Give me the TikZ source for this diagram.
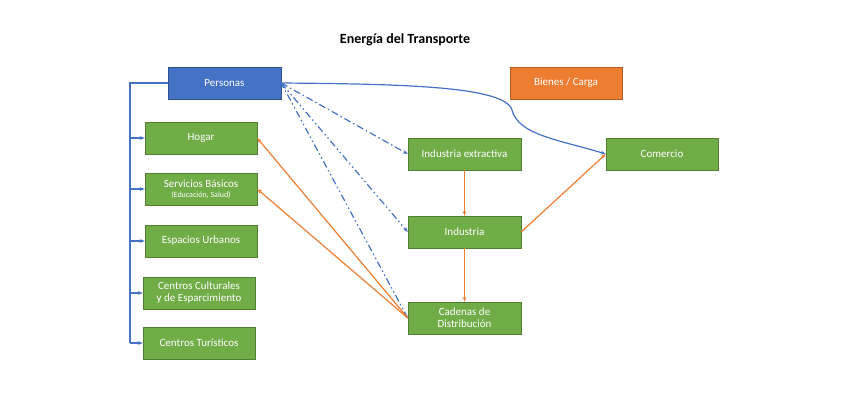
\documentclass[tikz,border=0pt]{standalone}
\usepackage{fontspec}
\setmainfont{Carlito}
\usetikzlibrary{arrows.meta}
\definecolor{gr}{HTML}{70AD47}\definecolor{grd}{HTML}{507E32}
\definecolor{bl}{HTML}{4472C4}\definecolor{bld}{HTML}{2F528F}
\definecolor{or}{HTML}{ED7D31}\definecolor{ord}{HTML}{AE5A21}
\tikzset{x=1pt,y=-1pt,
 gbox/.style={fill=gr,draw=grd,minimum width=112pt,minimum height=32pt,text=white,font=\fontsize{11}{12}\selectfont,align=center,inner sep=1pt},
 barr/.style={bl,line width=1.2pt,-{Stealth[length=5pt]}},
 oarr/.style={or,line width=1.2pt,-{Stealth[length=5pt]}}}
\begin{document}
\begin{tikzpicture}
\useasboundingbox (0,0) rectangle (850,400);
\node[font=\bfseries\fontsize{14}{16}\selectfont] (t) at (405,40) {Energía del Transporte};
\node[gbox,fill=bl,draw=bld,minimum width=113pt] (p) at (224.5,83) {Personas};
\node[gbox,fill=or,draw=ord] (b) at (566,83) {Bienes / Carga};
\node[gbox] (h) at (201,138) {Hogar};
\node[gbox] (s) at (201,189) {Servicios Básicos\\[-2pt]{\fontsize{8}{9}\selectfont(Educación, Salud)}};
\node[gbox] (e) at (201,241) {Espacios Urbanos};
\node[gbox] (cc) at (199,293) {Centros Culturales\\y de Esparcimiento};
\node[gbox] (ct) at (199,343) {Centros Turísticos};
\node[gbox,minimum width=113pt] (ie) at (464.5,154) {Industria extractiva};
\node[gbox,minimum width=113pt] (i) at (464.5,232) {Industria};
\node[gbox,minimum width=113pt] (cd) at (464.5,318) {Cadenas de\\Distribución};
\node[gbox] (co) at (662,154) {Comercio};
\coordinate (k) at (130,83);
\draw[bl,line width=1.2pt] (p.west) -- (k) -- (130,343);
\foreach \n in {h,s,e,cc,ct} \draw[barr] (k |- \n.west) -- (\n.west);
\draw[barr] (p.east) .. controls (400,84) and (505,86) .. (512,110) .. controls (518,135) and (560,140) .. (co.west);
\draw[barr,dash pattern=on 7pt off 3pt on 1.5pt off 3pt] (p.east) -- (ie.west);
\draw[barr,dash pattern=on 7pt off 3pt on 1.5pt off 3pt on 1.5pt off 3pt] (p.east) -- (i.west);
\draw[barr,dash pattern=on 7pt off 3pt on 1.5pt off 3pt on 1.5pt off 3pt] (cd.west) -- (p.east);
\draw[oarr] (cd.west) -- (h.east);
\draw[oarr] (cd.west) -- (s.east);
\draw[oarr] (ie) -- (i);
\draw[oarr] (i) -- (cd);
\draw[oarr] (i.east) -- (co.west);
\end{tikzpicture}
\end{document}
